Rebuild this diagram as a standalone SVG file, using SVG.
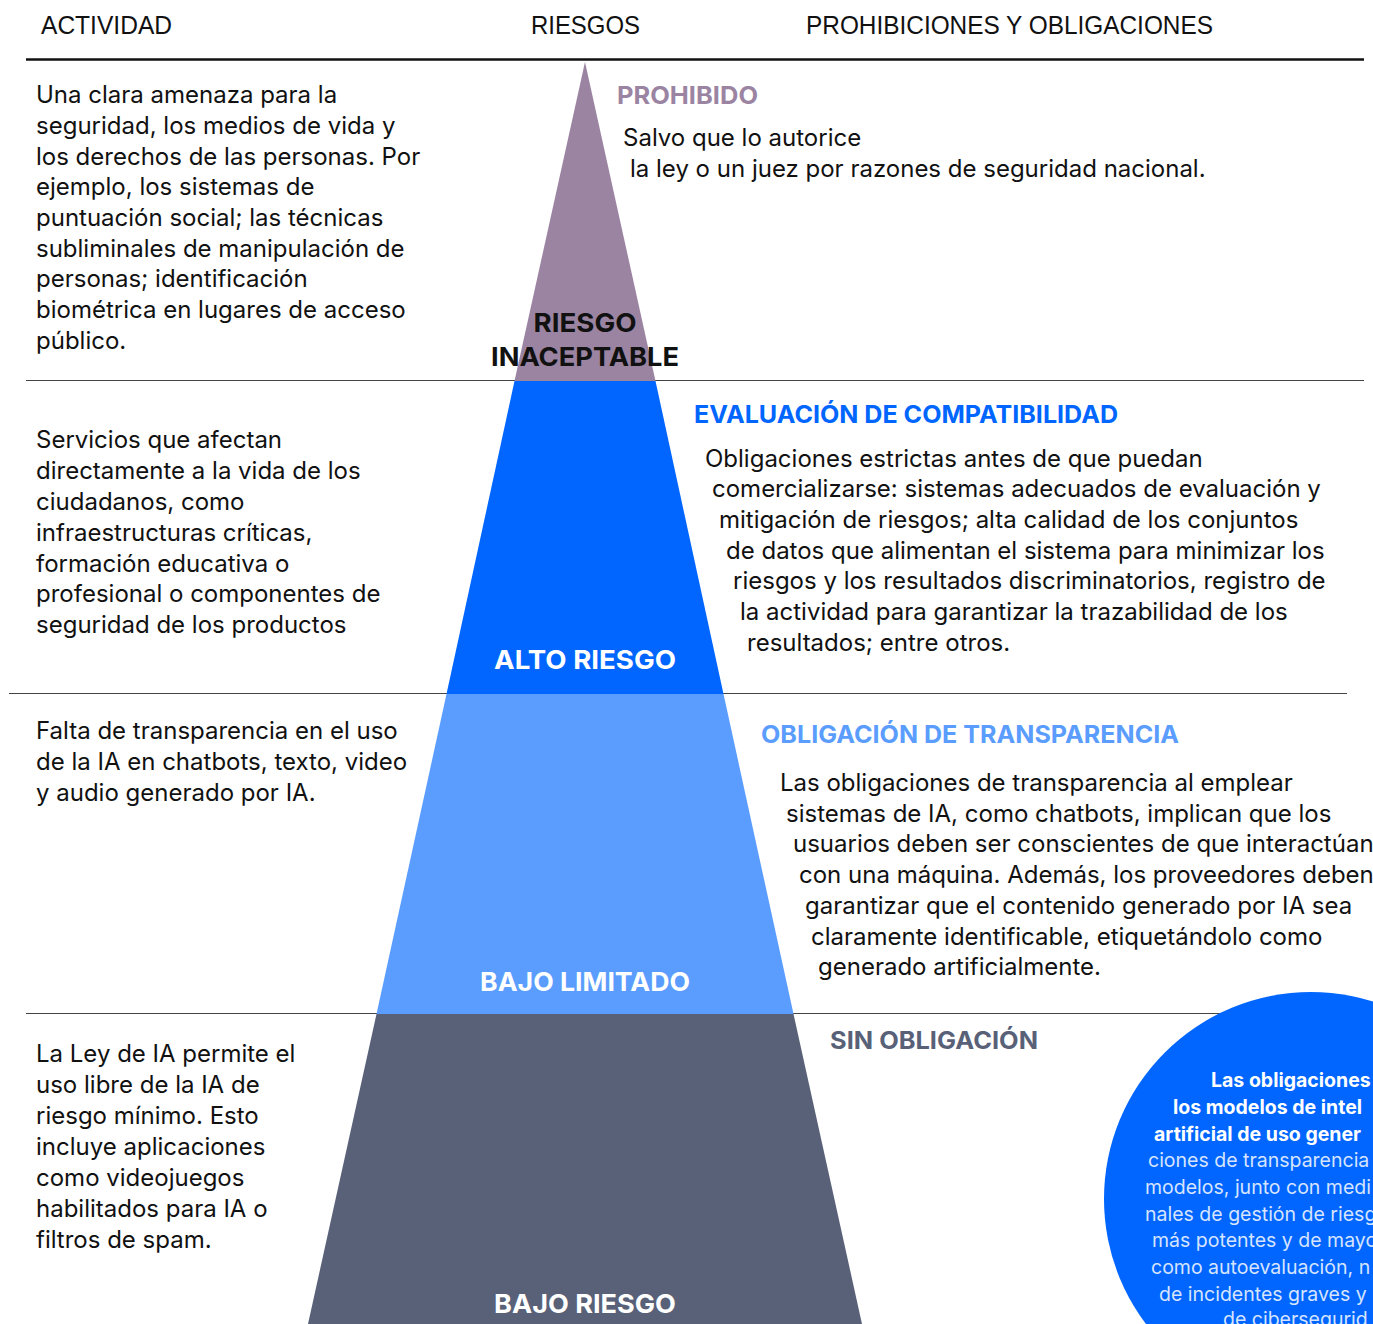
<svg xmlns="http://www.w3.org/2000/svg" width="1373" height="1324" viewBox="0 0 1373 1324">
  <style>
    .hdr { font-family: "Liberation Sans", Arial, sans-serif; font-size: 25px; fill: #111; }
    .body { font-family: Inter, "Noto Sans", sans-serif; font-size: 24px; fill: #111; white-space: pre; }
    .tag { font-family: Inter, "Noto Sans", sans-serif; font-size: 24.5px; font-weight: 700; }
    .lvl { font-family: Inter, "Noto Sans", sans-serif; font-size: 26px; font-weight: 700; text-anchor: middle; }
    .rule { stroke: #444; stroke-width: 1.2; }
    .circ-b { font-family: Inter, "Noto Sans", sans-serif; font-size: 19.5px; font-weight: 700; fill: #fff; }
    .circ-r { font-family: Inter, "Noto Sans", sans-serif; font-size: 19.5px; fill: #d6e4ff; }
  </style>

  <rect width="1373" height="1324" fill="#fff"/>

  <!-- column headings -->
  <g id="headings">
    <text class="hdr" x="41" y="34" textLength="131" lengthAdjust="spacingAndGlyphs">ACTIVIDAD</text>
    <text class="hdr" x="531" y="34" textLength="109" lengthAdjust="spacingAndGlyphs">RIESGOS</text>
    <text class="hdr" x="806" y="34" textLength="407" lengthAdjust="spacingAndGlyphs">PROHIBICIONES Y OBLIGACIONES</text>
  </g>

  <!-- separators -->
  <g id="rules">
    <line x1="26" y1="59.5" x2="1364" y2="59.5" stroke="#111" stroke-width="2.5"/>
    <line class="rule" x1="26" y1="380.5" x2="1364" y2="380.5"/>
    <line class="rule" x1="9" y1="693.5" x2="1347" y2="693.5"/>
    <line class="rule" x1="26" y1="1013.5" x2="1240" y2="1013.5"/>
  </g>

  <!-- pyramid tiers -->
  <g id="pyramid">
    <polygon id="tier-unacceptable" points="585,62 655.5,381 514.5,381" fill="#9b84a2"/>
    <polygon id="tier-high" points="514.5,381 655.5,381 723.5,694 446.5,694" fill="#0066ff"/>
    <polygon id="tier-limited" points="446.5,694 723.5,694 793.5,1014 376.5,1014" fill="#5a9dff"/>
    <polygon id="tier-minimal" points="376.5,1014 793.5,1014 862,1324 308,1324" fill="#586178"/>
    <text class="lvl" x="585" y="332" fill="#111" textLength="103" lengthAdjust="spacingAndGlyphs">RIESGO</text>
    <text class="lvl" x="585" y="366" fill="#111" textLength="188" lengthAdjust="spacingAndGlyphs">INACEPTABLE</text>
    <text class="lvl" x="585" y="669" fill="#fff" textLength="182" lengthAdjust="spacingAndGlyphs">ALTO RIESGO</text>
    <text class="lvl" x="585" y="991" fill="#fff" textLength="210" lengthAdjust="spacingAndGlyphs">BAJO LIMITADO</text>
    <text class="lvl" x="585" y="1313" fill="#fff" textLength="182" lengthAdjust="spacingAndGlyphs">BAJO RIESGO</text>
  </g>

  <!-- activity descriptions -->
  <g id="activity-unacceptable" class="body">
    <text x="36" y="103">Una clara amenaza para la</text>
    <text x="36" y="134">seguridad, los medios de vida y</text>
    <text x="36" y="165">los derechos de las personas. Por</text>
    <text x="36" y="195">ejemplo,  los sistemas de</text>
    <text x="36" y="226">puntuación social; las técnicas</text>
    <text x="36" y="257">subliminales de manipulación de</text>
    <text x="36" y="287">personas; identificación</text>
    <text x="36" y="318">biométrica en lugares de acceso</text>
    <text x="36" y="349">público.</text>
  </g>
  <g id="activity-high" class="body">
    <text x="36" y="448">Servicios que afectan</text>
    <text x="36" y="479">directamente a la vida de los</text>
    <text x="36" y="510">ciudadanos, como</text>
    <text x="36" y="541">infraestructuras críticas,</text>
    <text x="36" y="572">formación educativa o</text>
    <text x="36" y="602">profesional o componentes de</text>
    <text x="36" y="633">seguridad de los productos</text>
  </g>
  <g id="activity-limited" class="body">
    <text x="36" y="739">Falta de transparencia en el uso</text>
    <text x="36" y="770">de la IA en chatbots, texto, video</text>
    <text x="36" y="801">y audio generado por IA.</text>
  </g>
  <g id="activity-minimal" class="body">
    <text x="36" y="1062">La Ley de IA permite el</text>
    <text x="36" y="1093">uso libre de la IA de</text>
    <text x="36" y="1124">riesgo mínimo. Esto</text>
    <text x="36" y="1155">incluye aplicaciones</text>
    <text x="36" y="1186">como videojuegos</text>
    <text x="36" y="1217">habilitados para IA o</text>
    <text x="36" y="1248">filtros de spam.</text>
  </g>

  <!-- obligations -->
  <g id="obligation-unacceptable">
    <text class="tag" x="617" y="104" fill="#9b84a2" textLength="141" lengthAdjust="spacingAndGlyphs">PROHIBIDO</text>
    <text class="body" x="623" y="146">Salvo que lo autorice</text>
    <text class="body" x="630" y="177">la ley o un juez por razones de seguridad nacional.</text>
  </g>
  <g id="obligation-high">
    <text class="tag" x="694" y="423" fill="#0066ff" textLength="424" lengthAdjust="spacingAndGlyphs">EVALUACIÓN DE COMPATIBILIDAD</text>
    <g class="body">
      <text x="705" y="467">Obligaciones estrictas antes de que puedan</text>
      <text x="712" y="497">comercializarse:  sistemas adecuados de evaluación y</text>
      <text x="719" y="528">mitigación de riesgos; alta calidad de los conjuntos</text>
      <text x="726" y="559">de datos que alimentan el sistema para minimizar los</text>
      <text x="733" y="589">riesgos y los resultados discriminatorios, registro de</text>
      <text x="740" y="620">la actividad para garantizar la trazabilidad de los</text>
      <text x="747" y="651">resultados; entre otros.</text>
    </g>
  </g>
  <g id="obligation-limited">
    <text class="tag" x="761" y="743" fill="#5a9dff" textLength="418" lengthAdjust="spacingAndGlyphs">OBLIGACIÓN DE TRANSPARENCIA</text>
    <g class="body">
      <text x="780" y="791">Las obligaciones de transparencia al emplear</text>
      <text x="786" y="822">sistemas de IA, como chatbots, implican que los</text>
      <text x="793" y="852">usuarios deben ser conscientes de que interactúan</text>
      <text x="799" y="883">con una máquina. Además, los proveedores deben</text>
      <text x="805" y="914">garantizar que el contenido generado por IA sea</text>
      <text x="811" y="945">claramente identificable, etiquetándolo como</text>
      <text x="818" y="975">generado artificialmente.</text>
    </g>
  </g>
  <g id="obligation-minimal">
    <text class="tag" x="830" y="1049" fill="#586178" textLength="208" lengthAdjust="spacingAndGlyphs">SIN OBLIGACIÓN</text>
  </g>

  <!-- general-purpose AI callout -->
  <g id="gpai-callout">
    <circle cx="1311" cy="1199" r="207" fill="#0066ff"/>
    <text class="circ-b" x="1211" y="1087">Las obligaciones</text>
    <text class="circ-b" x="1173" y="1114">los modelos de intel</text>
    <text class="circ-b" x="1154" y="1141">artificial de uso gener</text>
    <text class="circ-r" x="1148" y="1167">ciones de transparencia</text>
    <text class="circ-r" x="1145" y="1194">modelos, junto con medi</text>
    <text class="circ-r" x="1145" y="1221">nales de gestión de riesg</text>
    <text class="circ-r" x="1152" y="1247">más potentes y de mayo</text>
    <text class="circ-r" x="1151" y="1274">como autoevaluación, n</text>
    <text class="circ-r" x="1159" y="1301">de incidentes graves y</text>
    <text class="circ-r" x="1223" y="1326">de cibersegurid</text>
  </g>
</svg>
